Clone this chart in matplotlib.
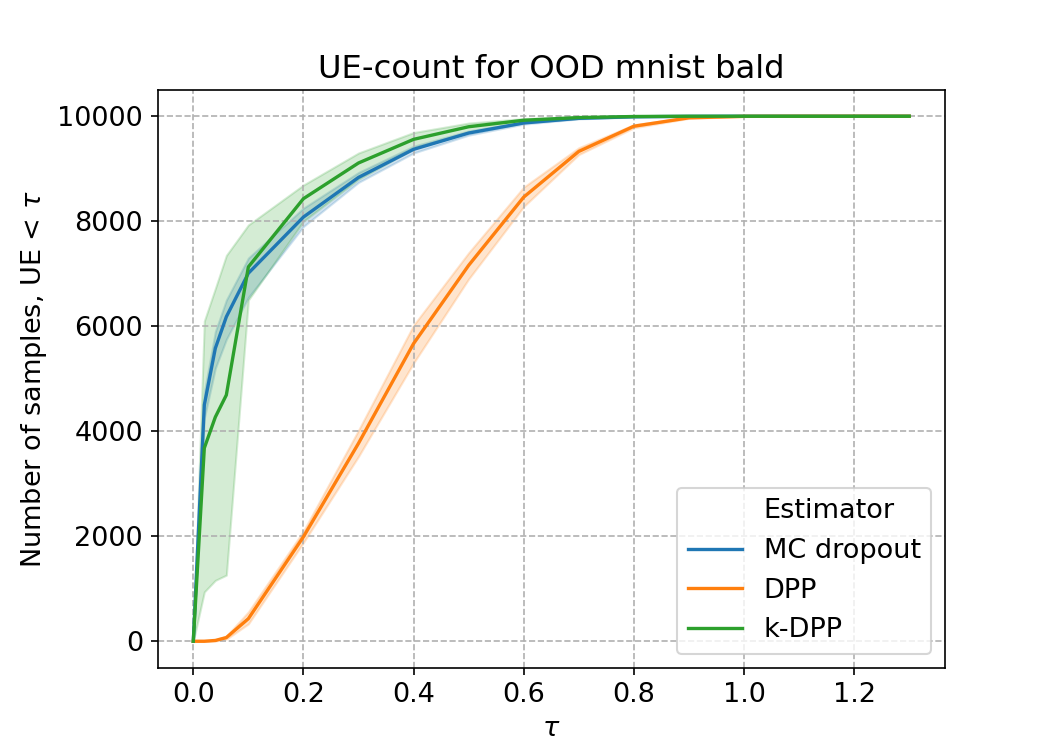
import numpy as np
import matplotlib
matplotlib.use("Agg")
import matplotlib.pyplot as plt
from matplotlib.lines import Line2D

# tau thresholds
tau = [0.0, 0.02, 0.04, 0.06, 0.1, 0.2, 0.3, 0.4, 0.5, 0.6, 0.7, 0.8, 0.9, 1.0, 1.1, 1.2, 1.3]

# MC dropout: mean and band
mc_mean = [0, 4500, 5580, 6180, 7010, 8080, 8835, 9370, 9680, 9872, 9960, 9990, 9998, 10000, 10000, 10000, 10000]
mc_low = [0, 4250, 5200, 5750, 6550, 7900, 8740, 9300, 9640, 9850, 9950, 9985, 9996, 10000, 10000, 10000, 10000]
mc_high = [0, 4750, 5900, 6500, 7300, 8250, 8930, 9430, 9720, 9892, 9970, 9995, 10000, 10000, 10000, 10000, 10000]

# DPP
dpp_mean = [0, 0, 15, 70, 430, 1990, 3770, 5670, 7160, 8460, 9330, 9810, 9970, 9998, 10000, 10000, 10000]
dpp_low = [0, 0, 5, 40, 330, 1880, 3520, 5300, 6900, 8280, 9270, 9780, 9960, 9996, 10000, 10000, 10000]
dpp_high = [0, 0, 25, 100, 560, 2100, 4020, 6020, 7400, 8650, 9400, 9840, 9980, 10000, 10000, 10000, 10000]

# k-DPP
kdpp_mean = [0, 3680, 4270, 4690, 7130, 8430, 9110, 9560, 9800, 9924, 9975, 9995, 10000, 10000, 10000, 10000, 10000]
kdpp_low = [0, 940, 1160, 1260, 6500, 8000, 8800, 9380, 9690, 9880, 9960, 9990, 9998, 10000, 10000, 10000, 10000]
kdpp_high = [0, 6100, 6720, 7350, 7930, 8690, 9300, 9690, 9870, 9955, 9988, 9998, 10000, 10000, 10000, 10000, 10000]

names = ["MC dropout", "DPP", "k-DPP"]
colors = ["#1f77b4", "#ff7f0e", "#2ca02c"]
means = [mc_mean, dpp_mean, kdpp_mean]
lows = [mc_low, dpp_low, kdpp_low]
highs = [mc_high, dpp_high, kdpp_high]

fig, ax = plt.subplots(figsize=(7, 5), dpi=150)
fig.subplots_adjust(left=0.15, right=0.9, bottom=0.11, top=0.88)

for name, c, m, lo, hi in zip(names, colors, means, lows, highs):
    ax.fill_between(tau, lo, hi, color=c, alpha=0.2, linewidth=1)
    ax.plot(tau, m, color=c, linewidth=1.6, label=name)

ax.grid(True, linestyle="--", color="#b0b0b0", linewidth=0.8)
ax.set_title("UE-count for OOD mnist bald", fontsize=15.5)
ax.set_xlabel(r"$\tau$", fontsize=13)
ax.set_ylabel(r"Number of samples, UE < $\tau$", fontsize=13)
ax.tick_params(labelsize=13)
ax.set_xticks([0.0, 0.2, 0.4, 0.6, 0.8, 1.0, 1.2])
ax.set_yticks([0, 2000, 4000, 6000, 8000, 10000])

handles, labels = ax.get_legend_handles_labels()
blank = Line2D([], [], linestyle="none", marker=None)
ax.legend([blank] + handles, ["Estimator"] + labels, loc="lower right", fontsize=13)

fig.savefig("out.png")
